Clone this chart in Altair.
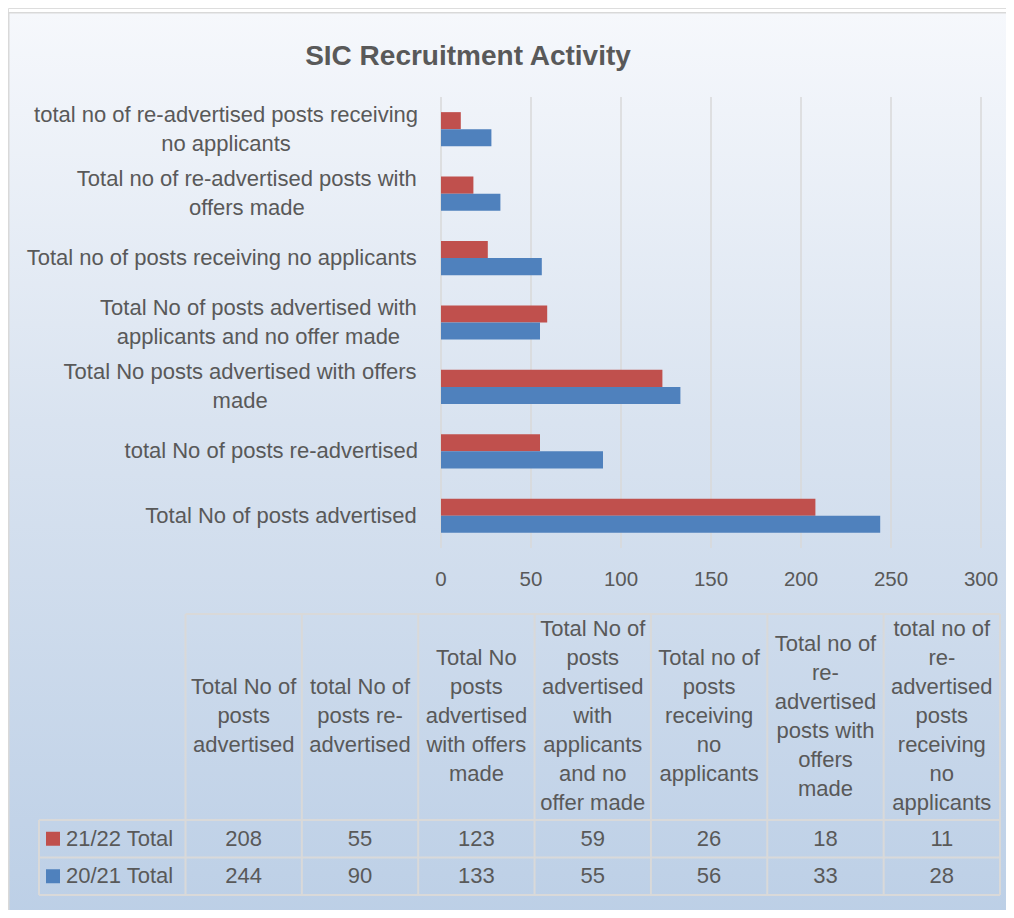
import re
import altair as alt
import pandas as pd

# ---------------- data ----------------
categories = [
    "Total No of posts advertised",
    "total No of posts re-advertised",
    "Total No posts advertised with offers made",
    "Total No of posts advertised with applicants and no offer made",
    "Total no of posts receiving no applicants",
    "Total no of re-advertised posts with offers made",
    "total no of re-advertised posts receiving no applicants",
]
series = ["21/22 Total", "20/21 Total"]
values_2122 = [208, 55, 123, 59, 26, 18, 11]
values_2021 = [244, 90, 133, 55, 56, 33, 28]
x_ticks = [0, 50, 100, 150, 200, 250, 300]
series_colors = ["#c0504d", "#4f81bd"]
title_text = "SIC Recruitment Activity"

FONT = "Liberation Sans"
TXT = "#595959"
LINE = "#d9d9d9"
FS = 22
LH = 29

# Arial-compatible advance widths (per 1000 em) for wrapping like the original
ADV = {' ': 278, '-': 333, '/': 278, 'a': 556, 'b': 556, 'c': 500, 'd': 556, 'e': 556,
       'f': 278, 'g': 556, 'h': 556, 'i': 222, 'j': 222, 'k': 500, 'l': 222, 'm': 833,
       'n': 556, 'o': 556, 'p': 556, 'q': 556, 'r': 333, 's': 500, 't': 278, 'u': 556,
       'v': 500, 'w': 722, 'x': 500, 'y': 500, 'z': 500, 'T': 611, 'N': 722}


def text_width(s, size):
    return sum(ADV.get(c, 556) for c in s) * size / 1000.0


def wrap(text, size, limit):
    tokens = []
    for i, word in enumerate(text.split(" ")):
        parts = re.findall(r"[^-]+-?|-", word)
        for j, p in enumerate(parts):
            tokens.append((p, i > 0 and j == 0))
    lines, cur = [], ""
    for tok, sp in tokens:
        cand = cur + (" " if (sp and cur) else "") + tok
        if cur and text_width(cand, size) > limit:
            lines.append(cur)
            cur = tok
        else:
            cur = cand
    lines.append(cur)
    return lines


# ---------------- tables ----------------
bars_df = pd.DataFrame(
    [{"category": c, "series": series[0], "value": v} for c, v in zip(categories, values_2122)]
    + [{"category": c, "series": series[1], "value": v} for c, v in zip(categories, values_2021)]
)
ticks_df = pd.DataFrame({"tick": x_ticks})

LABEL_RIGHT = 410
label_rows = []
for c in categories:
    lines = wrap(c, FS, 400)
    w = max(text_width(l, FS) for l in lines)
    for k, l in enumerate(lines):
        label_rows.append({"category": c, "line": l, "off": k - (len(lines) - 1) / 2,
                           "cx": LABEL_RIGHT - w / 2})
labels_df = pd.DataFrame(label_rows)

header_rows = []
for i, c in enumerate(categories):
    lines = wrap(c, FS, 112)
    for k, l in enumerate(lines):
        header_rows.append({"mid": i + 0.5, "line": l, "off": k - (len(lines) - 1) / 2})
header_df = pd.DataFrame(header_rows)

cells_df = pd.DataFrame(
    [{"mid": i + 0.5, "series": series[0], "value": v} for i, v in enumerate(values_2122)]
    + [{"mid": i + 0.5, "series": series[1], "value": v} for i, v in enumerate(values_2021)]
)
legend_df = pd.DataFrame({"series": series})
vlines_df = pd.DataFrame({"b": list(range(len(categories) + 1))})
hlines_df = pd.DataFrame({"r": list(range(len(series) + 1))})
one = pd.DataFrame({"k": [1]})

# ---------------- scales ----------------
xscale = alt.Scale(domain=[0, 300], range=[433, 973], nice=False, zero=True)
yscale = alt.Scale(domain=list(reversed(categories)), range=[89, 540],
                   paddingInner=0.47, paddingOuter=0.235)
cscale = alt.Scale(domain=series, range=series_colors)
tx = alt.Scale(domain=[0, len(categories)], range=[177.5, 992], nice=False, zero=False)
trow = alt.Scale(type="point", domain=series, range=[812, 887], padding=0.5)
trule = alt.Scale(domain=[0, len(series)], range=[812, 887], nice=False, zero=False)

gradient = alt.Gradient(
    gradient="linear", x1=0, y1=0, x2=0, y2=1,
    stops=[alt.GradientStop(color="#f6f8fc", offset=0),
           alt.GradientStop(color="#d9e3f0", offset=0.45),
           alt.GradientStop(color="#bccfe6", offset=1)],
)

bg = alt.Chart(one).mark_rect(fill=gradient, stroke=LINE, strokeWidth=1.5).encode(
    x=alt.value(0.75), x2=alt.value(1010), y=alt.value(4.75), y2=alt.value(915)
)

grid = alt.Chart(ticks_df).mark_rule(color=LINE, strokeWidth=1.5).encode(
    x=alt.X("tick:Q", scale=xscale, axis=None), y=alt.value(89), y2=alt.value(540)
)

bars = alt.Chart(bars_df).mark_bar().encode(
    x=alt.X("value:Q", scale=xscale, axis=None),
    y=alt.Y("category:N", scale=yscale, axis=None),
    yOffset=alt.YOffset("series:N", scale=alt.Scale(domain=series), sort=series),
    color=alt.Color("series:N", scale=cscale, legend=None),
)

cat_label_layers = []
for off in sorted(labels_df["off"].unique()):
    sub = labels_df[labels_df["off"] == off]
    cat_label_layers.append(
        alt.Chart(sub).mark_text(
            align="center", baseline="middle", dy=float(off) * LH,
            fontSize=FS, font=FONT, color=TXT,
        ).encode(
            x=alt.X("cx:Q", scale=None, axis=None),
            y=alt.Y("category:N", scale=yscale, axis=None),
            text="line:N",
        )
    )

tick_labels = alt.Chart(ticks_df).mark_text(
    baseline="middle", fontSize=20.5, font=FONT, color=TXT
).encode(
    x=alt.X("tick:Q", scale=xscale, axis=None), y=alt.value(572), text="tick:Q"
)

title = alt.Chart(pd.DataFrame({"t": [title_text]})).mark_text(
    baseline="middle", fontSize=28, fontWeight="bold", font=FONT, color=TXT
).encode(x=alt.value(460), y=alt.value(49), text="t:N")

header_layers = []
for off in sorted(header_df["off"].unique()):
    sub = header_df[header_df["off"] == off]
    header_layers.append(
        alt.Chart(sub).mark_text(
            align="center", baseline="middle", dy=float(off) * LH,
            fontSize=FS, font=FONT, color=TXT,
        ).encode(x=alt.X("mid:Q", scale=tx, axis=None), y=alt.value(708), text="line:N")
    )

cells = alt.Chart(cells_df).mark_text(
    align="center", baseline="middle", fontSize=FS, font=FONT, color=TXT
).encode(
    x=alt.X("mid:Q", scale=tx, axis=None),
    y=alt.Y("series:N", scale=trow, axis=None),
    text="value:Q",
)

legend_sq = alt.Chart(legend_df).mark_square(size=196, opacity=1).encode(
    x=alt.value(45),
    y=alt.Y("series:N", scale=trow, axis=None),
    color=alt.Color("series:N", scale=cscale, legend=None),
)
legend_txt = alt.Chart(legend_df).mark_text(
    align="left", baseline="middle", fontSize=FS, font=FONT, color=TXT
).encode(x=alt.value(58), y=alt.Y("series:N", scale=trow, axis=None), text="series:N")

vlines = alt.Chart(vlines_df).mark_rule(color=LINE, strokeWidth=2).encode(
    x=alt.X("b:Q", scale=tx, axis=None), y=alt.value(606), y2=alt.value(887)
)
hlines = alt.Chart(hlines_df).mark_rule(color=LINE, strokeWidth=2).encode(
    y=alt.Y("r:Q", scale=trule, axis=None), x=alt.value(31), x2=alt.value(992)
)
top_line = alt.Chart(one).mark_rule(color=LINE, strokeWidth=2).encode(
    x=alt.value(177.5), x2=alt.value(992), y=alt.value(606)
)
left_line = alt.Chart(one).mark_rule(color=LINE, strokeWidth=2).encode(
    x=alt.value(31), y=alt.value(812), y2=alt.value(887)
)

chart = (
    alt.layer(bg, grid, vlines, hlines, top_line, left_line, bars,
              *cat_label_layers, tick_labels, title, *header_layers,
              cells, legend_sq, legend_txt)
    .resolve_scale(x="independent", y="independent")
    .properties(width=998, height=902, padding=0,
                autosize=alt.AutoSizeParams(type="none"))
    .configure_view(stroke=None)
    .configure(background="white")
)

chart.save("out.html", embed_options={"renderer": "svg", "actions": False})
